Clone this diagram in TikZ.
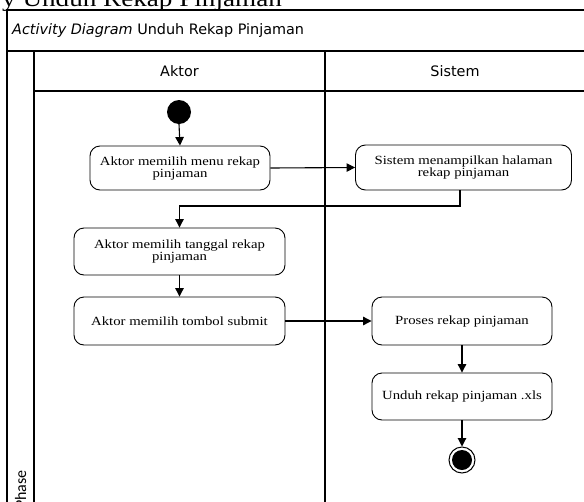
\documentclass[tikz,border=0pt]{standalone}
\usepackage{fontspec}
\setmainfont{Liberation Serif}
\newfontfamily\boxfont[FakeStretch=1.18]{Liberation Serif}
\newfontfamily\sansfont{DejaVu Sans}
\newfontfamily\phasefont{Carlito}
\usetikzlibrary{arrows.meta,calc}
\begin{document}
\begin{tikzpicture}[x=1pt,y=-1pt,
  act/.style={draw, rounded corners=10pt, line width=0.9pt, align=center,
    font=\boxfont\fontsize{12.5}{12}\selectfont, inner sep=0pt},
  arr/.style={line width=1.1pt, -{Triangle[length=8.5pt,width=8.5pt]}},
  lane/.style={line width=1.5pt},
  hdr/.style={font=\sansfont\fontsize{14.4}{16}\selectfont, inner sep=0pt}]
\useasboundingbox (0,0) rectangle (584,501);
\clip (0,0) rectangle (584,501);
% caption (cut off)
\node[anchor=base west, inner sep=0pt, font=\boxfont\fontsize{23}{26}\selectfont] (cap) at (2,6) {y Unduh Rekap Pinjaman};
% frame
\draw[lane] (7,10) rectangle (600,520);
\draw[lane] (7,51) -- (600,51);
\draw[lane] (34,91) -- (600,91);
\draw[lane] (34,51) -- (34,520);
\draw[lane] (325,51) -- (325,520);
\node[hdr, anchor=west] (title) at (12,31) {\textit{Activity Diagram} Unduh Rekap Pinjaman};
\node[hdr] (aktor) at (179.5,71) {Aktor};
\node[hdr] (sistem) at (455,71) {Sistem};
\node[rotate=90, anchor=base east, inner sep=0pt, font=\phasefont\fontsize{16}{18}\selectfont] (phase) at (26,470) {Phase};
% activities
\node[circle, fill=black, minimum size=24pt, inner sep=0pt] (start) at (179,112) {};
\node[act, minimum width=180pt, minimum height=44pt] (b1) at (180,168) {Aktor memilih menu rekap\\pinjaman};
\node[act, minimum width=216pt, minimum height=45pt] (b2) at (463.5,167.5) {Sistem menampilkan halaman\\rekap pinjaman};
\node[act, minimum width=211pt, minimum height=47pt] (b3) at (179.5,251.5) {Aktor memilih tanggal rekap\\pinjaman};
\node[act, minimum width=211pt, minimum height=48pt] (b4) at (179.5,321) {Aktor memilih tombol submit};
\node[act, minimum width=180pt, minimum height=48pt] (b5) at (462,321) {Proses rekap pinjaman};
\node[act, minimum width=180pt, minimum height=47pt] (b6) at (462,396.5) {Unduh rekap pinjaman .xls};
\node[circle, draw, line width=1pt, minimum size=26pt, inner sep=0pt] (endo) at (462,460) {};
\node[circle, fill=black, minimum size=20pt, inner sep=0pt] (endi) at (462,460) {};
\coordinate (e1) at (460,206);
% connectors
\draw[arr] (start.south) -- (b1.north);
\draw[arr] (b1.east) -- (b2.west);
\draw[arr] (b2.south -| e1) -- (e1) -| (b3.north);
\draw[arr] (b3.south) -- (b4.north);
\draw[arr] (b4.east) -- (b5.west);
\draw[arr] (b5.south) -- (b6.north);
\draw[arr] (b6.south) -- (endo.north);
\end{tikzpicture}
\end{document}
